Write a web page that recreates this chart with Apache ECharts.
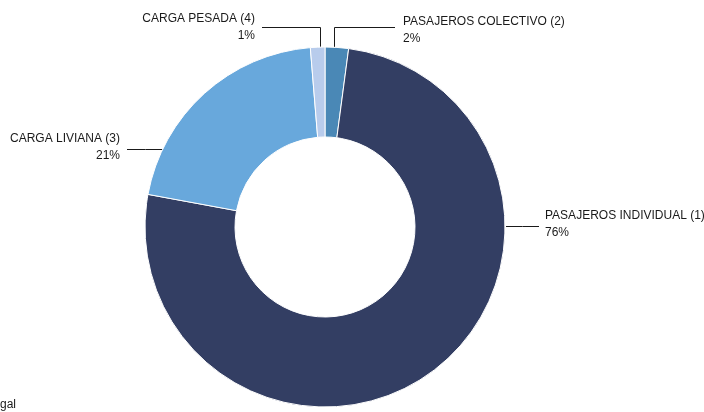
<!DOCTYPE html>
<html>
<head>
<meta charset="utf-8">
<script src="https://cdn.jsdelivr.net/npm/echarts@6/dist/echarts.min.js"></script>
<style>html,body{margin:0;padding:0;background:#fff}#c{width:704px;height:412px}</style>
</head>
<body>
<div id="c"></div>
<script>
// DATA
const categories = ['PASAJEROS COLECTIVO (2)', 'PASAJEROS INDIVIDUAL (1)', 'CARGA LIVIANA (3)', 'CARGA PESADA (4)'];
const values = [2.1, 75.8, 20.8, 1.3];
const colors = ['#4A88B6', '#333E63', '#68A8DC', '#B8CCEC'];
const footnote = 'gal';

// layout (styles / positions)
const CX = 325, CY = 227, R = 180, RI = 90;
function ring(deg) { // clockwise from top
  const a = deg * Math.PI / 180;
  return [Math.round(CX + R * Math.sin(a)) + 0.5, Math.round(CY - R * Math.cos(a))];
}
const labelCfg = [
  { ang: 3.0, type: 'up', lineY: 27.5, endX: 395, textX: 403, textY: 30, align: 'left' },
  { ang: 90.5, type: 'side', lineY: 226.5, endX: 539, textX: 545, textY: 224, align: 'left' },
  { ang: 295.7, type: 'side', lineY: 149.5, endX: 127, textX: 120, textY: 147, align: 'right' },
  { ang: 358.4, type: 'up', lineY: 27.5, endX: 262, textX: 255, textY: 27.5, align: 'right' }
];

const chart = echarts.init(document.getElementById('c'));
chart.setOption({
  animation: false,
  backgroundColor: '#fff',
  color: colors,
  graphic: [{
    type: 'text', left: 0, top: 399,
    style: { text: footnote, font: '12px "Liberation Sans", Arial, sans-serif', fill: '#1a1a1a' }
  }],
  series: [{
    type: 'pie',
    center: [CX, CY],
    radius: [RI, R],
    startAngle: 90,
    clockwise: true,
    avoidLabelOverlap: false,
    itemStyle: { borderColor: '#fff', borderWidth: 1 },
    label: {
      show: true,
      formatter: p => p.name + '\n' + Math.round(p.percent) + '%',
      fontFamily: '"Liberation Sans", Arial, sans-serif',
      fontSize: 12,
      lineHeight: 17,
      color: '#1a1a1a'
    },
    labelLine: { show: true, length: 10, length2: 10, lineStyle: { color: '#1a1a1a', width: 1 } },
    emphasis: { disabled: true },
    labelLayout: function (params) {
      const c = labelCfg[params.dataIndex];
      const p0 = ring(c.ang);
      let pts;
      if (c.type === 'up') {
        pts = [p0, [p0[0], c.lineY], [c.endX, c.lineY]];
      } else {
        const p = [Math.round(p0[0]), c.lineY];
        pts = [p, [(p[0] + c.endX) / 2, c.lineY], [c.endX, c.lineY]];
      }
      return {
        x: c.textX, y: c.textY, align: c.align, verticalAlign: 'middle',
        labelLinePoints: pts
      };
    },
    data: categories.map((n, i) => ({ name: n, value: values[i] }))
  }]
});
</script>
</body>
</html>
